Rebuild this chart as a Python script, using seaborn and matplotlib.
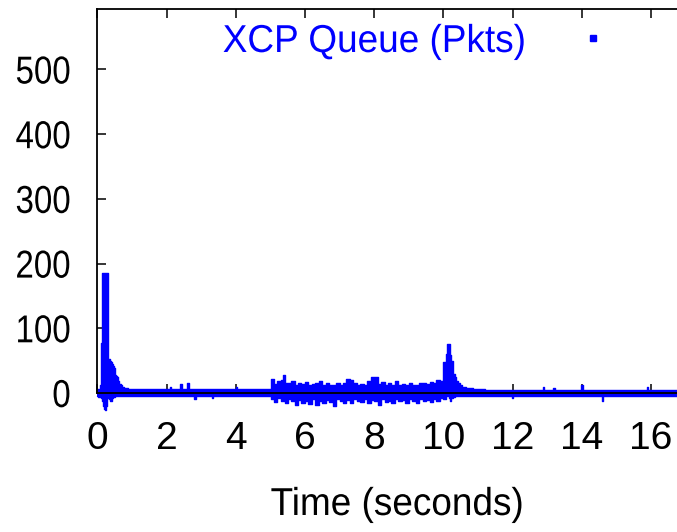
import numpy as np
import pandas as pd
import matplotlib
matplotlib.use("Agg")
import matplotlib.pyplot as plt
from matplotlib.lines import Line2D
from matplotlib.patheffects import AbstractPathEffect
from matplotlib.transforms import Affine2D
import seaborn as sns

# ---- data: queue envelope (max / min per instant) ----
time_s = [
    0.00, 0.05, 0.10, 0.12, 0.14, 0.16, 0.18, 0.20, 0.22, 0.24, 0.26, 0.28, 0.30,
    0.32, 0.35, 0.38, 0.41, 0.44, 0.47, 0.50, 0.53, 0.56, 0.59, 0.62, 0.66, 0.70,
    0.74, 0.78, 0.85, 0.95,
    1.30, 1.60, 2.08, 2.12, 2.16, 2.38, 2.42, 2.46, 2.58, 2.62, 2.66, 2.78, 2.82,
    2.86, 3.28, 3.32, 3.36, 3.98, 4.02, 4.06, 4.60, 5.00,
    5.05, 5.15, 5.25, 5.35, 5.40, 5.45, 5.55, 5.65, 5.75, 5.85, 5.95, 6.05, 6.15,
    6.25, 6.35, 6.45, 6.55, 6.65, 6.75, 6.85, 6.95, 7.05, 7.15, 7.25, 7.35, 7.45,
    7.55, 7.65, 7.75, 7.85, 7.95, 8.05, 8.15, 8.25, 8.35, 8.45, 8.55, 8.65, 8.75,
    8.85, 8.95, 9.05, 9.15, 9.25, 9.35, 9.45, 9.55, 9.65, 9.75, 9.85, 9.95,
    10.05, 10.10, 10.13, 10.17, 10.20, 10.25, 10.30, 10.35, 10.40, 10.45, 10.50,
    10.60, 10.70, 10.80, 10.90,
    11.50, 11.96, 12.00, 12.04, 12.86, 12.90, 12.94, 13.16, 13.20, 13.24, 13.96,
    14.00, 14.04, 14.56, 14.60, 14.64, 15.30, 15.86, 15.90, 15.94, 16.40, 16.75,
]
queue_max = [
    6, 6, 12, 77, 77, 185, 185, 185, 185, 185, 185, 185, 185,
    52, 52, 50, 48, 45, 42, 38, 28, 26, 25, 18, 14, 12,
    10, 8, 7, 6,
    6, 6, 6, 10, 6, 6, 14, 6, 6, 15, 6, 6, 6,
    6, 6, 6, 6, 6, 10, 6, 6, 6,
    22, 14, 18, 20, 28, 16, 15, 18, 12, 16, 14, 17, 13,
    14, 16, 19, 13, 16, 12, 13, 15, 12, 15, 22, 20, 16,
    13, 14, 12, 18, 24, 25, 14, 17, 12, 15, 13, 19, 12,
    14, 13, 16, 12, 13, 15, 15, 14, 17, 15, 20, 18,
    48, 60, 75, 75, 58, 50, 30, 25, 18, 15, 12,
    9, 8, 7, 6,
    5, 5, 5, 5, 5, 10, 5, 5, 8, 5, 5,
    12, 5, 5, 5, 5, 5, 5, 10, 5, 5, 5,
]
queue_min = [
    -5, -6, -6, -8, -10, -12, -20, -25, -27, -27, -20, -10, -8,
    -8, -10, -12, -12, -8, -6, -6, -5, -5, -5, -5, -5, -5,
    -5, -5, -5, -5,
    -5, -5, -5, -5, -5, -5, -5, -5, -5, -5, -5, -5, -10,
    -5, -5, -8, -5, -5, -5, -5, -5, -5,
    -10, -14, -8, -12, -12, -16, -10, -13, -18, -11, -15, -12, -17,
    -10, -19, -12, -16, -11, -14, -20, -10, -13, -16, -11, -15, -9,
    -12, -14, -10, -16, -11, -13, -18, -10, -14, -12, -15, -9, -13,
    -11, -16, -10, -12, -15, -9, -13, -11, -14, -10, -12, -8,
    -10, -5, -5, -8, -12, -8, -6, -5, -5, -5, -5,
    -5, -5, -5, -5,
    -4, -4, -8, -4, -4, -4, -4, -4, -4, -4, -4,
    -4, -4, -4, -12, -4, -4, -4, -4, -4, -4, -4,
]
series_label = "XCP Queue (Pkts)"
x_label = "Time (seconds)"
x_ticks = [0, 2, 4, 6, 8, 10, 12, 14, 16]
y_ticks = [0, 100, 200, 300, 400, 500]


class Narrow(AbstractPathEffect):
    """Horizontally condense a text (to mimic a narrow Helvetica)."""

    def __init__(self, sx=0.85, anchor="center"):
        super().__init__()
        self.sx = sx
        self.anchor = anchor

    def draw_path(self, renderer, gc, tpath, affine, rgbFace=None):
        ext = tpath.get_extents(affine)
        if self.anchor == "left":
            px = ext.x0
        elif self.anchor == "right":
            px = ext.x1
        else:
            px = 0.5 * (ext.x0 + ext.x1)
        new_aff = affine + Affine2D().translate(-px, 0).scale(self.sx, 1).translate(px, 0)
        renderer.draw_path(gc, tpath, new_aff, rgbFace)


df = pd.DataFrame({"t": time_s, "hi": queue_max, "lo": queue_min})

sns.set_theme(style="white")
plt.rcParams["font.family"] = ["Liberation Sans", "DejaVu Sans"]

W, H = 677, 532
fig = plt.figure(figsize=(W / 100, H / 100), dpi=100)
ax = fig.add_axes([97.3 / W, 1 - 393 / H, (W - 97.3) / W, (393 - 9.3) / H])

blue = "#0000ff"
sns.lineplot(data=df, x="t", y="hi", ax=ax, color=blue, lw=1.0, drawstyle="steps-mid",
             estimator=None, sort=False, clip_on=False)
sns.lineplot(data=df, x="t", y="lo", ax=ax, color=blue, lw=1.0, drawstyle="steps-mid",
             estimator=None, sort=False, clip_on=False)
ax.fill_between(df["t"], df["lo"], df["hi"], step="mid", color=blue, lw=0, clip_on=False)

ax.set_xlim(0, 16.75)
ax.set_ylim(0, 593)
ax.set_xticks(x_ticks)
ax.set_yticks(y_ticks)
ax.set_xticklabels([str(v) for v in x_ticks])
ax.set_yticklabels([str(v) for v in y_ticks])
ax.set_xlabel("")
ax.set_ylabel("")

for s in ["left", "top", "bottom"]:
    ax.spines[s].set_visible(True)
    ax.spines[s].set_color("black")
    ax.spines[s].set_linewidth(1.3)
ax.spines["right"].set_visible(False)

ax.tick_params(axis="both", which="major", direction="in", length=6.5, width=1.1,
               color="black", labelcolor="black", labelsize=28)
ax.tick_params(axis="x", top=True, bottom=True, pad=20)
ax.tick_params(axis="y", left=True, right=False, pad=19)

xl = fig.text(397 / W, 1 - 505 / H, x_label, ha="center", va="center", fontsize=28, color="black")
xl.set_path_effects([Narrow(0.95, "center")])

handle = Line2D([], [], color=blue, marker="s", markersize=3.8, linestyle="none")
leg = ax.legend([handle], [series_label], loc="center left", frameon=False,
                bbox_to_anchor=(222.7 / W, 1 - 42 / H), bbox_transform=fig.transFigure,
                borderaxespad=0, borderpad=0, markerfirst=False, handlelength=1.0,
                handletextpad=0.83, fontsize=28)
for txt in leg.get_texts():
    txt.set_color(blue)
    txt.set_path_effects([Narrow(0.95, "left")])

for lab in ax.get_yticklabels():
    lab.set_path_effects([Narrow(0.85, "right")])

fig.savefig("out.png", dpi=100)
